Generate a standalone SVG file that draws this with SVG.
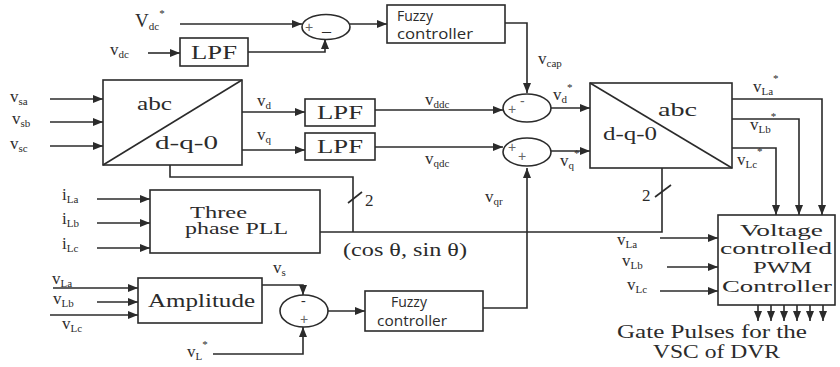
<svg xmlns="http://www.w3.org/2000/svg" width="840" height="367" viewBox="0 0 840 367">
<defs>
<marker id="ar" viewBox="0 0 10 8" refX="10" refY="4" markerWidth="10" markerHeight="8" markerUnits="userSpaceOnUse" orient="auto">
<path d="M0,0 L10,4 L0,8 z" fill="#2b2b2b"/>
</marker>
</defs>
<style>
.b{fill:#fff;stroke:#2b2b2b;stroke-width:1.6}
.c{fill:none;stroke:#2b2b2b;stroke-width:1.6}
.a{marker-end:url(#ar)}
.t{font-family:"Liberation Serif","Times New Roman",serif;fill:#2b2b2b}
.s{font-family:"Open Sans","Liberation Sans",Arial,sans-serif;fill:#2b2b2b}
.L{font-size:17px}
.sub{font-size:11px}
.big{font-size:19px}
.mid{font-size:16px}
.sg{font-family:"Liberation Sans",Arial,sans-serif;font-size:14px;fill:#666}
</style>
<rect width="840" height="367" fill="#fff"/>

<g id="connectors">
<path class="c a" d="M180,24 H302"/>
<path class="c a" d="M350,24 H387"/>
<path class="c a" d="M148,53 H180"/>
<path class="c a" d="M248,52 H325 V39"/>
<path class="c a" d="M505,23 H527 V93"/>
<path class="c a" d="M50,99 H103"/>
<path class="c a" d="M50,122 H103"/>
<path class="c a" d="M50,146 H103"/>
<path class="c a" d="M242,112 H305"/>
<path class="c a" d="M242,150 H305"/>
<path class="c a" d="M375,110 H503"/>
<path class="c a" d="M375,147 H503"/>
<path class="c a" d="M551,108 H590"/>
<path class="c a" d="M551,151 H590"/>
<path class="c a" d="M732,99 H822 V215"/>
<path class="c a" d="M732,119 H799 V215"/>
<path class="c a" d="M732,148 H776 V215"/>
<path class="c" d="M170,165 V177 H353 V232"/>
<path class="c" d="M348,203 L362,192"/>
<path class="c" d="M320,232 H662 V168"/>
<path class="c" d="M655,197 L671,185"/>
<path class="c a" d="M483,308 H527 V168"/>
<path class="c a" d="M97,199 H150"/>
<path class="c a" d="M97,223 H150"/>
<path class="c a" d="M97,248 H150"/>
<path class="c a" d="M53,288 H138"/>
<path class="c a" d="M97,302 H138"/>
<path class="c a" d="M50,315 H138"/>
<path class="c a" d="M262,285 H303 V295"/>
<path class="c a" d="M213,354 H303 V327"/>
<path class="c a" d="M328,311 H365"/>
<path class="c a" d="M660,238 H718"/>
<path class="c a" d="M667,267 H718"/>
<path class="c a" d="M660,291 H718"/>
<path class="c a" d="M758,305 V321"/>
<path class="c a" d="M771,305 V321"/>
<path class="c a" d="M784,305 V321"/>
<path class="c a" d="M797,305 V321"/>
<path class="c a" d="M810,305 V321"/>
<path class="c a" d="M823,305 V321"/>
</g>

<g id="sum1">
<ellipse class="b" cx="326" cy="27" rx="24" ry="12.5"/>
<text class="sg" x="305" y="32">+</text>
<text class="t" x="322" y="37" font-size="18">–</text>
</g>
<g id="fuzzy1">
<rect class="b" x="387" y="5" width="118" height="38"/>
<text class="s" x="397" y="21" font-size="14">Fuzzy</text>
<text class="s" x="397" y="39" font-size="14" textLength="76" lengthAdjust="spacingAndGlyphs">controller</text>
</g>
<g id="lpf0">
<rect class="b" x="180" y="38" width="68" height="28"/>
<text class="t big" x="214" y="59" text-anchor="middle" textLength="46" lengthAdjust="spacingAndGlyphs">LPF</text>
</g>
<g id="abc2dq0">
<rect class="b" x="103" y="80" width="139" height="85"/>
<path class="c" d="M103,165 L242,80"/>
<text class="t big" x="137" y="110" textLength="35" lengthAdjust="spacingAndGlyphs">abc</text>
<text class="t big" x="155" y="149" textLength="63" lengthAdjust="spacingAndGlyphs">d-q-0</text>
</g>
<g id="lpf1">
<rect class="b" x="305" y="99" width="70" height="27"/>
<text class="t big" x="340" y="119" text-anchor="middle" textLength="46" lengthAdjust="spacingAndGlyphs">LPF</text>
</g>
<g id="lpf2">
<rect class="b" x="305" y="133" width="70" height="27"/>
<text class="t big" x="340" y="153" text-anchor="middle" textLength="46" lengthAdjust="spacingAndGlyphs">LPF</text>
</g>
<g id="sum2">
<ellipse class="b" cx="527" cy="108" rx="24" ry="14"/>
<text class="sg" x="508" y="114">+</text>
<text class="sg" x="520" y="106">-</text>
</g>
<g id="sum3">
<ellipse class="b" cx="527" cy="152" rx="24" ry="14"/>
<text class="sg" x="508" y="152">+</text>
<text class="sg" x="518" y="161">+</text>
</g>
<g id="dq02abc">
<rect class="b" x="590" y="83" width="142" height="85"/>
<path class="c" d="M590,83 L732,168"/>
<text class="t big" x="658" y="116" textLength="39" lengthAdjust="spacingAndGlyphs">abc</text>
<text class="t big" x="603" y="140" textLength="54" lengthAdjust="spacingAndGlyphs">d-q-0</text>
</g>
<g id="pll">
<rect class="b" x="150" y="190" width="170" height="63"/>
<text class="t mid" x="190" y="218" textLength="57" lengthAdjust="spacingAndGlyphs">Three</text>
<text class="t mid" x="185" y="234" textLength="103" lengthAdjust="spacingAndGlyphs">phase PLL</text>
</g>
<g id="amplitude">
<rect class="b" x="138" y="278" width="124" height="45"/>
<text class="t big" x="148" y="307" textLength="107" lengthAdjust="spacingAndGlyphs">Amplitude</text>
</g>
<g id="sum4">
<ellipse class="b" cx="304" cy="311" rx="24" ry="16"/>
<text class="t" x="301" y="305" font-size="14">-</text>
<text class="sg" x="300" y="324" font-size="13" fill="#999">+</text>
</g>
<g id="fuzzy2">
<rect class="b" x="365" y="291" width="118" height="40"/>
<text class="s" x="391" y="307" font-size="14">Fuzzy</text>
<text class="s" x="377" y="326" font-size="14" textLength="70" lengthAdjust="spacingAndGlyphs">controller</text>
</g>
<g id="pwm">
<rect class="b" x="718" y="215" width="117" height="90"/>
<text class="t mid" x="740" y="236" textLength="83" lengthAdjust="spacingAndGlyphs">Voltage</text>
<text class="t mid" x="720" y="254" textLength="112" lengthAdjust="spacingAndGlyphs">controlled</text>
<text class="t mid" x="753" y="273" textLength="59" lengthAdjust="spacingAndGlyphs">PWM</text>
<text class="t mid" x="722" y="292" textLength="110" lengthAdjust="spacingAndGlyphs">Controller</text>
</g>

<g id="labels">
<text class="t big" x="135" y="27">V<tspan class="sub" dy="3">dc</tspan><tspan class="sub" dy="-13">*</tspan></text>
<text class="t L" x="110" y="55">v<tspan class="sub" dy="3">dc</tspan></text>
<text class="t L" x="10" y="102">v<tspan class="sub" dy="3">sa</tspan></text>
<text class="t L" x="12" y="124">v<tspan class="sub" dy="3">sb</tspan></text>
<text class="t L" x="10" y="149">v<tspan class="sub" dy="3">sc</tspan></text>
<text class="t L" x="257" y="106">v<tspan class="sub" dy="3">d</tspan></text>
<text class="t L" x="257" y="140">v<tspan class="sub" dy="3">q</tspan></text>
<text class="t L" x="425" y="105">v<tspan class="sub" dy="3">ddc</tspan></text>
<text class="t L" x="425" y="164">v<tspan class="sub" dy="3">qdc</tspan></text>
<text class="t L" x="538" y="64">v<tspan class="sub" dy="3">cap</tspan></text>
<text class="t L" x="553" y="100">v<tspan class="sub" dy="3">d</tspan><tspan class="sub" dy="-12">*</tspan></text>
<text class="t L" x="560" y="166">v<tspan class="sub" dy="3">q</tspan><tspan class="sub" dy="-12">*</tspan></text>
<text class="t L" x="753" y="92">v<tspan class="sub" dy="3">La</tspan><tspan class="sub" dy="-13">*</tspan></text>
<text class="t L" x="750" y="130">v<tspan class="sub" dy="3">Lb</tspan><tspan class="sub" dy="-13">*</tspan></text>
<text class="t L" x="737" y="165">v<tspan class="sub" dy="3">Lc</tspan><tspan class="sub" dy="-13">*</tspan></text>
<text class="t L" x="485" y="202">v<tspan class="sub" dy="3">qr</tspan></text>
<text class="t L" x="365" y="206">2</text>
<text class="t L" x="642" y="201">2</text>
<text class="t big" x="343" y="256" textLength="124" lengthAdjust="spacingAndGlyphs">(cos θ, sin θ)</text>
<text class="t L" x="62" y="200">i<tspan class="sub" dy="3">La</tspan></text>
<text class="t L" x="62" y="224">i<tspan class="sub" dy="3">Lb</tspan></text>
<text class="t L" x="62" y="249">i<tspan class="sub" dy="3">Lc</tspan></text>
<text class="t L" x="52" y="284">v<tspan class="sub" dy="3">La</tspan></text>
<text class="t L" x="53" y="304">v<tspan class="sub" dy="3">Lb</tspan></text>
<text class="t L" x="62" y="329">v<tspan class="sub" dy="3">Lc</tspan></text>
<text class="t L" x="273" y="273">v<tspan class="sub" dy="3">s</tspan></text>
<text class="t L" x="187" y="357">v<tspan class="sub" dy="3">L</tspan><tspan class="sub" dy="-12">*</tspan></text>
<text class="t L" x="617" y="245">v<tspan class="sub" dy="3">La</tspan></text>
<text class="t L" x="622" y="266">v<tspan class="sub" dy="3">Lb</tspan></text>
<text class="t L" x="627" y="290">v<tspan class="sub" dy="3">Lc</tspan></text>
<text class="t big" x="617" y="338" textLength="190" lengthAdjust="spacingAndGlyphs">Gate Pulses for the</text>
<text class="t big" x="653" y="358" textLength="127" lengthAdjust="spacingAndGlyphs">VSC of DVR</text>
</g>
</svg>
